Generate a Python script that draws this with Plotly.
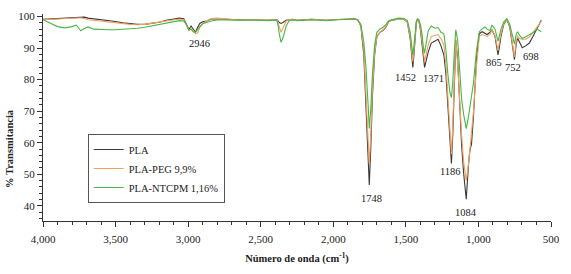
import plotly.graph_objects as go

# Wavenumber grid (cm-1), descending
wavenumber = [
    4000, 3950, 3900, 3850, 3800, 3770, 3740, 3715, 3690, 3650, 3600, 3550, 3500, 3450, 3400, 3350,
    3300, 3250, 3200, 3150, 3100, 3060, 3030,
    3010, 2995, 2980, 2965, 2950, 2935, 2920, 2900, 2870, 2840,
    2800, 2750, 2700, 2650, 2600, 2550, 2500, 2450, 2400, 2385, 2370, 2360, 2345, 2325, 2305, 2280,
    2250, 2200, 2150, 2100, 2050, 2000, 1950, 1900, 1870,
    1850, 1830, 1810, 1790, 1775, 1760, 1752, 1742, 1730, 1715, 1700, 1680, 1660, 1640, 1620, 1600,
    1580, 1550, 1515, 1490, 1470, 1460, 1452, 1444, 1437, 1428, 1420, 1410, 1400, 1390, 1380, 1371, 1360,
    1346, 1325, 1300, 1278, 1258, 1238, 1224, 1211, 1197, 1186, 1177, 1167, 1156, 1143, 1129, 1116,
    1102, 1084, 1068, 1058, 1048, 1034, 1014,
    994, 974, 955, 940, 920, 906, 886, 875, 865, 855, 845, 825, 804, 784, 770, 760, 752, 745, 739,
    730, 716, 698, 675, 649, 621, 594, 567,
]

pla = [
    99.1, 99.2, 99.4, 99.5, 99.6, 99.7, 99.8, 99.8, 99.5, 99.3, 99.0, 98.7, 98.4, 98.0, 97.7, 97.5,
    97.5, 97.8, 98.2, 98.8, 99.3, 99.5, 99.3,
    97.5, 95.8, 97.0, 96.0, 95.0, 96.5, 97.8, 98.3, 98.6, 99.2,
    99.3, 99.2, 99.0, 98.9, 99.0, 99.0, 98.9, 98.8, 99.0, 98.8, 98.0, 97.8, 98.2, 98.8, 99.0, 99.1,
    98.8, 99.0, 99.1, 99.0, 98.8, 99.0, 99.1, 99.3, 99.4,
    99.3, 98.8, 97.0, 88.0, 72.0, 55.0, 46.6, 58.0, 75.0, 88.0, 93.5, 95.0, 95.5, 96.5, 98.3, 98.8,
    98.9, 99.3, 99.2, 98.2, 93.0, 88.0, 83.9, 88.0, 94.0, 98.0, 99.0, 98.5, 96.0, 92.0, 87.0, 83.9, 86.0,
    88.7, 91.6, 92.2, 92.8, 90.7, 87.8, 81.8, 71.3, 59.4, 53.4, 62.4, 80.3, 92.5, 86.3, 71.3, 59.4,
    50.4, 42.1, 53.4, 57.9, 59.4, 68.4, 86.3,
    94.6, 95.2, 94.8, 94.3, 95.0, 95.8, 93.7, 90.5, 87.8, 90.5, 93.7, 97.6, 99.1, 96.7, 92.2, 88.5, 86.3, 89.0, 91.6,
    93.1, 91.6, 90.1, 90.7, 91.6, 94.0, 96.4, 98.8,
]

pla_peg = [
    99.0, 99.1, 99.2, 99.3, 99.4, 99.5, 99.6, 99.4, 99.0, 98.8, 98.5, 98.2, 98.0, 97.7, 97.5, 97.4,
    97.5, 97.9, 98.3, 98.7, 99.0, 99.2, 99.0,
    97.0, 95.5, 96.0, 95.5, 94.6, 94.8, 96.5, 97.8, 98.6, 99.4,
    99.5, 99.3, 99.0, 98.9, 99.0, 99.0, 98.9, 98.8, 99.0, 98.7, 96.5, 95.0, 96.5, 98.5, 99.0, 99.1,
    98.8, 99.0, 99.1, 99.0, 98.8, 99.0, 99.1, 99.3, 99.4,
    99.3, 98.8, 97.2, 89.5, 76.0, 61.0, 53.4, 62.0, 77.0, 88.5, 93.5, 95.0, 95.6, 96.6, 98.3, 98.8,
    98.9, 99.3, 99.2, 98.3, 93.5, 89.0, 85.7, 89.0, 94.5, 98.2, 99.0, 98.6, 96.5, 93.0, 88.5, 85.7, 88.0,
    91.0, 93.7, 94.0, 94.3, 93.0, 91.0, 84.8, 76.0, 64.0, 56.4, 65.4, 81.8, 92.8, 85.0, 72.0, 62.4,
    54.0, 48.0, 53.4, 58.0, 62.4, 70.0, 84.0,
    93.7, 94.3, 94.0, 93.7, 94.5, 95.8, 94.0, 92.0, 89.3, 92.0, 94.5, 97.8, 99.1, 97.0, 93.0, 89.0, 87.2, 90.0, 92.5,
    93.7, 93.0, 92.8, 92.8, 93.5, 95.0, 96.8, 98.5,
]

pla_ntcpm = [
    99.0, 97.8, 96.8, 96.4, 96.8, 97.3, 95.5, 96.2, 96.7, 96.0, 95.8, 95.8, 95.8, 95.9, 96.1, 96.3,
    96.6, 97.0, 97.4, 97.9, 98.4, 98.7, 98.6,
    97.3, 95.8, 96.0, 95.2, 95.0, 95.8, 96.8, 97.7, 98.2, 98.6,
    98.9, 99.0, 98.9, 98.8, 98.9, 98.9, 98.8, 98.7, 98.9, 98.4, 94.0, 91.8, 93.5, 97.0, 98.6, 99.0,
    98.7, 98.9, 99.0, 98.9, 98.7, 98.9, 99.0, 99.2, 99.3,
    99.2, 98.9, 97.5, 92.0, 84.0, 72.0, 64.5, 70.5, 82.0, 91.0, 95.0, 96.0, 96.5, 97.3, 98.6, 99.0,
    99.2, 99.5, 99.4, 98.8, 95.0, 91.0, 87.8, 91.0, 95.5, 98.6, 99.3, 99.0, 97.5, 95.0, 90.5, 88.4, 91.5,
    95.5, 97.0, 96.3, 96.5, 95.0, 94.6, 89.3, 82.0, 76.0, 74.3, 79.0, 88.0, 95.8, 92.5, 82.0, 74.0,
    69.0, 64.5, 68.4, 71.3, 74.9, 79.0, 89.0,
    95.2, 96.1, 96.7, 96.0, 95.5, 97.3, 96.0, 94.0, 92.2, 94.0, 96.0, 98.3, 99.3, 97.5, 94.5, 92.0, 91.3, 93.0, 94.5,
    95.2, 94.0, 93.0, 93.5, 94.2, 95.0, 96.0, 95.2,
]

series_names = ["PLA", "PLA-PEG 9,9%", "PLA-NTCPM 1,16%"]
series_values = [pla, pla_peg, pla_ntcpm]
series_colors = ["#3a3a3a", "#f5a05e", "#45b845"]

# Peak labels: text, label x (cm-1), label y (%T)
peak_labels = ["2946", "1748", "1452", "1371", "1186", "1084", "865", "752", "698"]
peak_label_x = [2920, 1739, 1502, 1312, 1190, 1089, 892, 764, 638]
peak_label_y = [91.3, 42.4, 80.6, 80.3, 51.0, 37.9, 85.4, 83.9, 87.2]

x_tick_vals = [4000, 3500, 3000, 2500, 2000, 1500, 1000, 500]
y_tick_vals = [40, 50, 60, 70, 80, 90, 100]

assert all(len(v) == len(wavenumber) for v in series_values)

SERIF = "Liberation Serif, Times New Roman, serif"

fig = go.Figure()
for name, vals, col in zip(series_names, series_values, series_colors):
    fig.add_trace(go.Scatter(x=wavenumber, y=vals, mode="lines", name=name,
                             line=dict(color=col, width=1.1)))

for t, px, py in zip(peak_labels, peak_label_x, peak_label_y):
    fig.add_annotation(x=px, y=py, text=t, showarrow=False, xanchor="center", yanchor="middle",
                       font=dict(family=SERIF, size=10.5, color="#222"))

fig.add_annotation(xref="paper", yref="paper", x=-0.066, y=0.35, text="<b>% Transmitancia</b>",
                   textangle=-90, showarrow=False, xanchor="center", yanchor="middle",
                   font=dict(family=SERIF, size=10.5, color="#222"))

fig.update_layout(
    width=571, height=274,
    margin=dict(l=43, r=11, t=12, b=41),
    paper_bgcolor="white", plot_bgcolor="white",
    font=dict(family=SERIF, size=11, color="#222"),
    showlegend=True,
    legend=dict(x=0.088, y=0.42, xanchor="left", yanchor="top",
                bordercolor="#555", borderwidth=1, bgcolor="white",
                font=dict(family=SERIF, size=10.5, color="#222"),
                itemwidth=30, tracegroupgap=0),
    xaxis=dict(range=[4000, 500], tickvals=x_tick_vals, tickformat=",",
               ticks="outside", ticklen=5, tickcolor="#333", showline=True,
               linecolor="#333", linewidth=1, showgrid=False, zeroline=False,
               ticklabelstandoff=3,
               minor=dict(dtick=100, ticks="outside", ticklen=3, tickcolor="#333", showgrid=False),
               tickfont=dict(family=SERIF, size=11),
               title=dict(text="<b>Número de onda (cm<sup>-1</sup>)</b>", standoff=10,
                          font=dict(family=SERIF, size=10.5))),
    yaxis=dict(range=[35.2, 100.8], tickvals=y_tick_vals,
               ticks="outside", ticklen=5, tickcolor="#333", showline=True,
               linecolor="#333", linewidth=1, showgrid=False, zeroline=False,
               minor=dict(dtick=2, ticks="outside", ticklen=3, tickcolor="#333", showgrid=False),
               tickfont=dict(family=SERIF, size=11)),
)

fig.write_html("out.html", config={"displayModeBar": False},
               post_script="document.body.style.margin='0px'; document.body.style.overflow='hidden';")
